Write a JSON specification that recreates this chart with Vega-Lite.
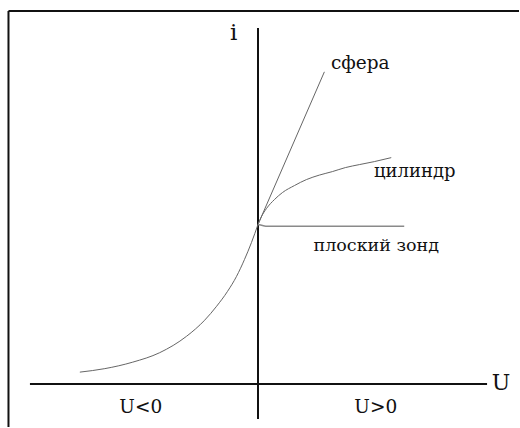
{
  "$schema": "https://vega.github.io/schema/vega-lite/v6.json",
  "width": 520,
  "height": 428,
  "autosize": {"type": "fit", "contains": "padding"},
  "padding": 0,
  "config": {
    "view": {"stroke": null}
  },
  "datasets": {
    "frame": [
      {"x": -25.0, "x2": -25.0, "y": 37.4, "y2": -4.3},
      {"x": -25.0, "x2": 26.15, "y": 37.4, "y2": 37.4}
    ],
    "axes": [
      {"x": 0, "x2": 0, "y": 35.7, "y2": -3.5},
      {"x": -22.85, "x2": 22.95, "y": 0, "y2": 0}
    ],
    "exponent": [
      {"U": -17.85, "i": 1.2},
      {"U": -15.35, "i": 1.55},
      {"U": -12.55, "i": 2.2},
      {"U": -9.85, "i": 3.15},
      {"U": -7.15, "i": 4.8},
      {"U": -5.35, "i": 6.4},
      {"U": -4.15, "i": 7.8},
      {"U": -3.05, "i": 9.3},
      {"U": -2.15, "i": 10.8},
      {"U": -1.35, "i": 12.5},
      {"U": -0.65, "i": 14.2},
      {"U": 0, "i": 16.0}
    ],
    "sphere": [
      {"U": 0, "i": 16.0},
      {"U": 6.65, "i": 31.3}
    ],
    "cylinder": [
      {"U": 0, "i": 16.0},
      {"U": 0.35, "i": 16.8},
      {"U": 0.85, "i": 17.6},
      {"U": 1.65, "i": 18.5},
      {"U": 2.45, "i": 19.2},
      {"U": 3.65, "i": 19.9},
      {"U": 4.85, "i": 20.5},
      {"U": 6.15, "i": 20.95},
      {"U": 7.45, "i": 21.3},
      {"U": 8.75, "i": 21.7},
      {"U": 10.15, "i": 22.0},
      {"U": 11.65, "i": 22.3},
      {"U": 13.35, "i": 22.7}
    ],
    "plane": [
      {"U": 0, "i": 16.0},
      {"U": 0.45, "i": 15.9},
      {"U": 0.95, "i": 15.83},
      {"U": 14.65, "i": 15.83}
    ],
    "labels": [
      {"U": -2.45, "i": 34.45, "text": "i", "size": 23},
      {"U": 24.35, "i": -0.6, "text": "U", "size": 22},
      {"U": 10.25, "i": 31.6, "text": "сфера", "size": 18.5},
      {"U": 15.7, "i": 20.8, "text": "цилиндр", "size": 18},
      {"U": 11.85, "i": 13.35, "text": "плоский зонд", "size": 17.5},
      {"U": -11.75, "i": -2.9, "text": "U<0", "size": 18.5},
      {"U": 11.8, "i": -2.9, "text": "U>0", "size": 18.5}
    ]
  },
  "layer": [
    {
      "data": {"name": "frame"},
      "mark": {"type": "rule", "stroke": "#111", "strokeWidth": 2},
      "encoding": {
        "x": {"field": "x", "type": "quantitative", "scale": {"domain": [-25.85, 26.15], "nice": false, "zero": false}, "axis": null},
        "x2": {"field": "x2"},
        "y": {"field": "y", "type": "quantitative", "scale": {"domain": [-4.3, 38.5], "nice": false, "zero": false}, "axis": null},
        "y2": {"field": "y2"}
      }
    },
    {
      "data": {"name": "axes"},
      "mark": {"type": "rule", "stroke": "#111", "strokeWidth": 2},
      "encoding": {
        "x": {"field": "x", "type": "quantitative"},
        "x2": {"field": "x2"},
        "y": {"field": "y", "type": "quantitative"},
        "y2": {"field": "y2"}
      }
    },
    {
      "data": {"name": "exponent"},
      "mark": {"type": "line", "stroke": "#666", "strokeWidth": 1, "interpolate": "monotone"},
      "encoding": {
        "x": {"field": "U", "type": "quantitative"},
        "y": {"field": "i", "type": "quantitative"}
      }
    },
    {
      "data": {"name": "sphere"},
      "mark": {"type": "line", "stroke": "#666", "strokeWidth": 1},
      "encoding": {
        "x": {"field": "U", "type": "quantitative"},
        "y": {"field": "i", "type": "quantitative"}
      }
    },
    {
      "data": {"name": "cylinder"},
      "mark": {"type": "line", "stroke": "#666", "strokeWidth": 1, "interpolate": "monotone"},
      "encoding": {
        "x": {"field": "U", "type": "quantitative"},
        "y": {"field": "i", "type": "quantitative"}
      }
    },
    {
      "data": {"name": "plane"},
      "mark": {"type": "line", "stroke": "#8a8a8a", "strokeWidth": 1.5, "interpolate": "monotone"},
      "encoding": {
        "x": {"field": "U", "type": "quantitative"},
        "y": {"field": "i", "type": "quantitative"}
      }
    },
    {
      "data": {"name": "labels"},
      "mark": {"type": "text", "font": "DejaVu Serif", "color": "#111", "align": "center", "baseline": "alphabetic"},
      "encoding": {
        "x": {"field": "U", "type": "quantitative"},
        "y": {"field": "i", "type": "quantitative"},
        "text": {"field": "text"},
        "size": {"field": "size", "type": "quantitative", "scale": null}
      }
    }
  ]
}
